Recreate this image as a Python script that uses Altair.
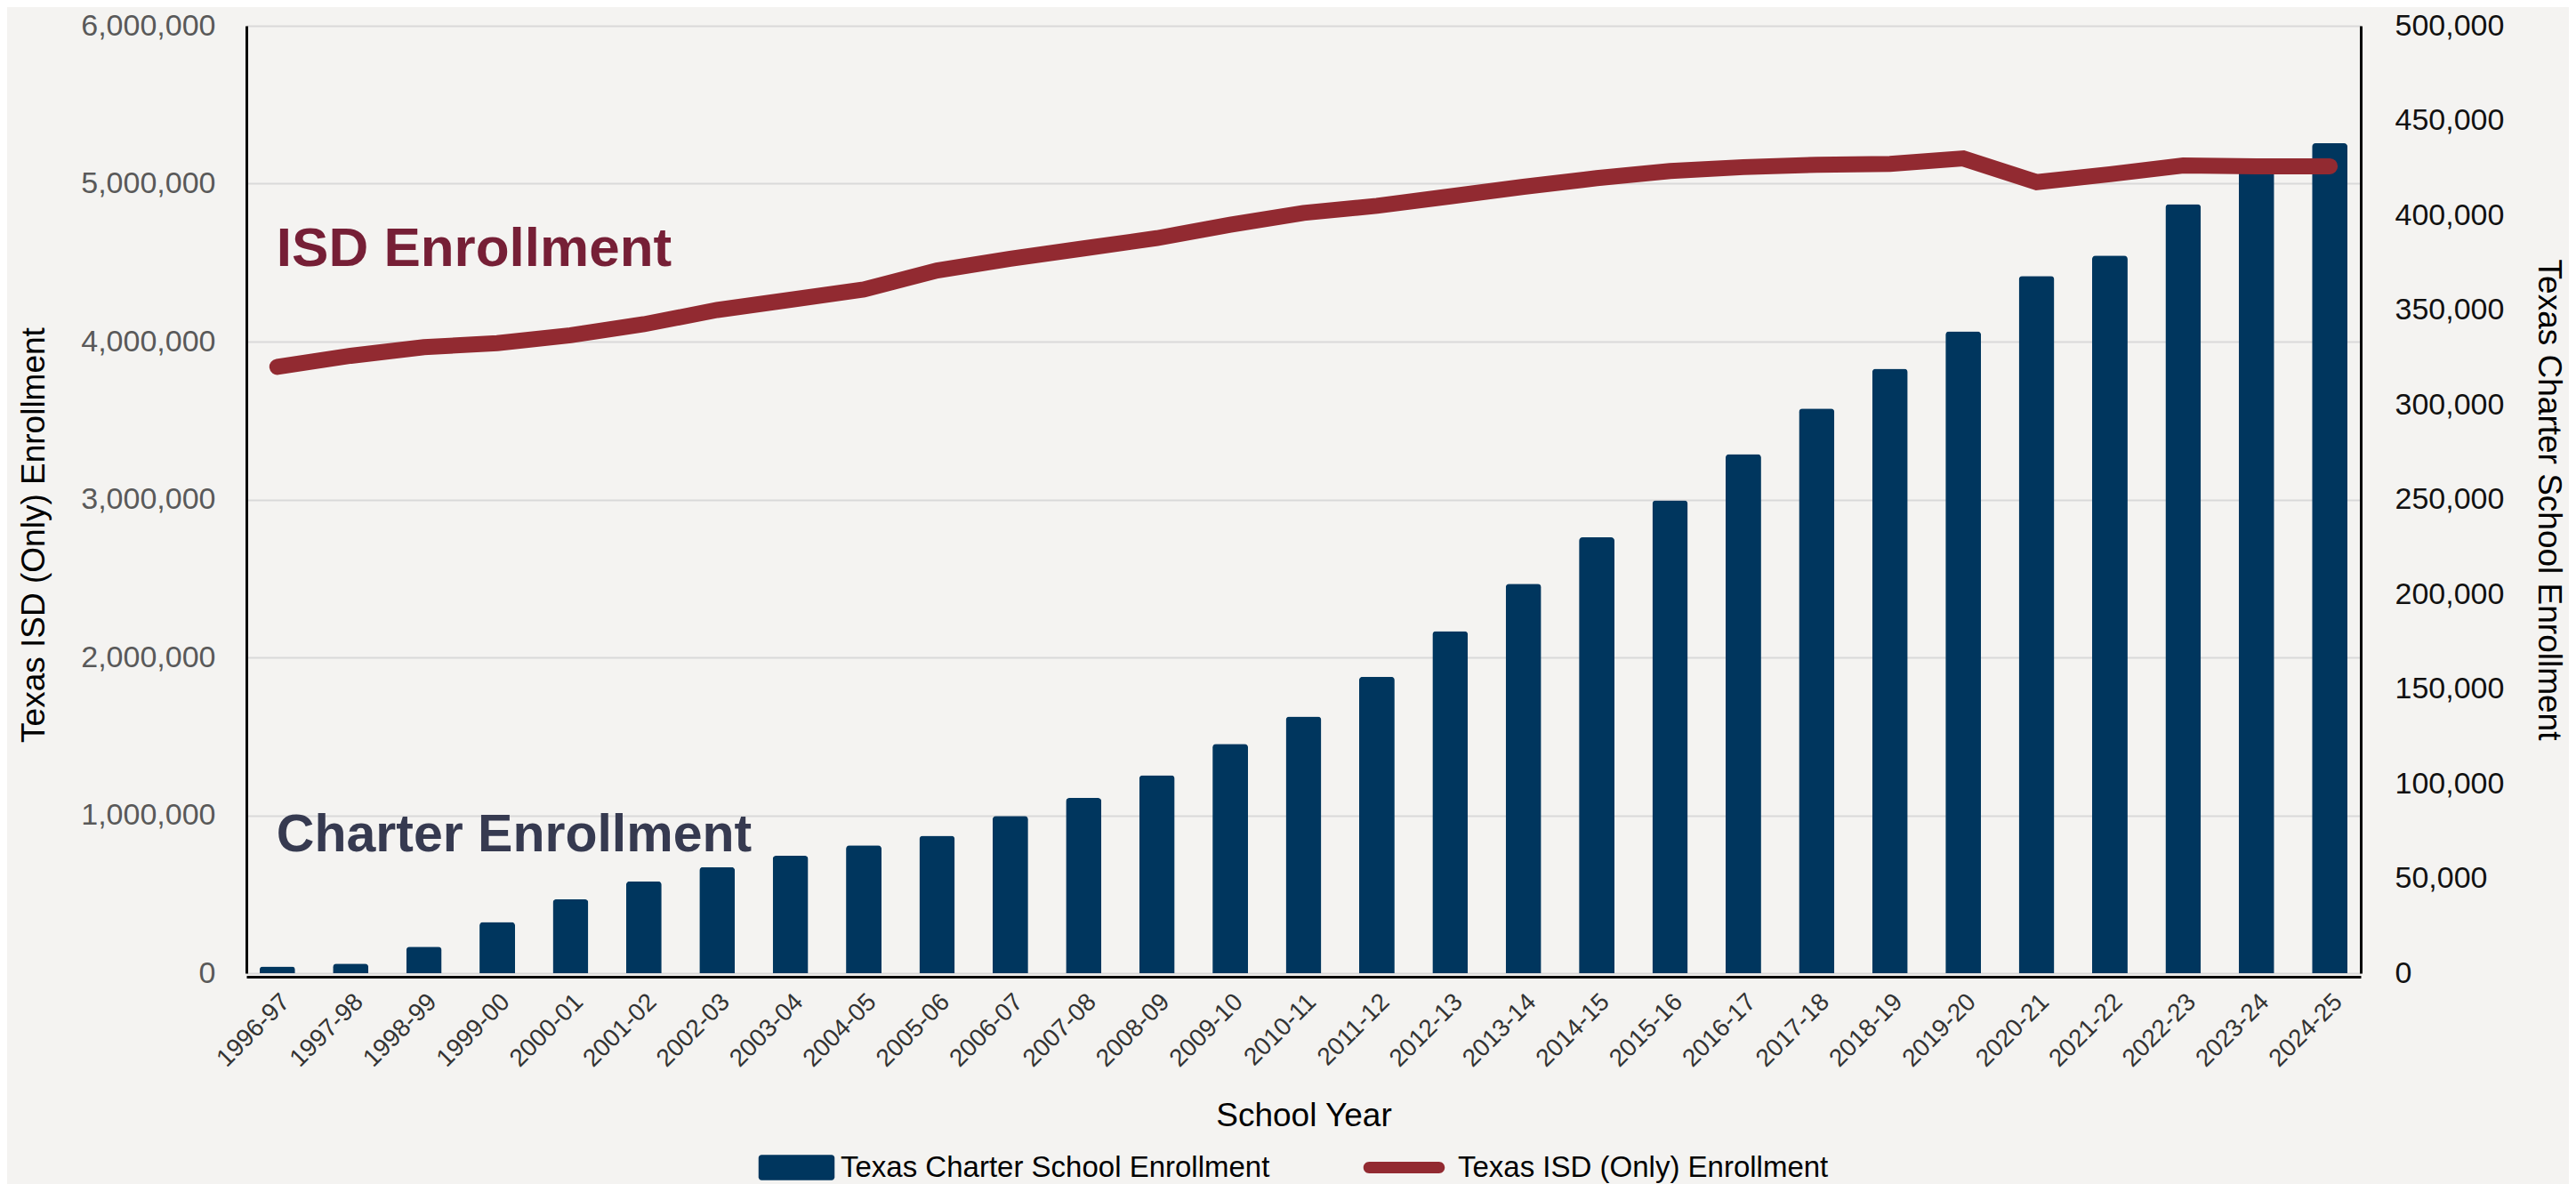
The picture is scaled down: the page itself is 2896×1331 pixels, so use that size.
import altair as alt
import pandas as pd

years = ["1996-97", "1997-98", "1998-99", "1999-00", "2000-01", "2001-02", "2002-03",
         "2003-04", "2004-05", "2005-06", "2006-07", "2007-08", "2008-09", "2009-10",
         "2010-11", "2011-12", "2012-13", "2013-14", "2014-15", "2015-16", "2016-17",
         "2017-18", "2018-19", "2019-20", "2020-21", "2021-22", "2022-23", "2023-24",
         "2024-25"]

charter = [3500, 5000, 14000, 27000, 39000, 48500, 56000, 62000, 67500, 72500,
           83000, 92500, 104500, 121000, 135500, 156500, 180500, 205500, 230000,
           249500, 274000, 298000, 319000, 338700, 368000, 378800, 405900, 426000,
           438000]

isd = [3840000, 3910000, 3965000, 3990000, 4040000, 4110000, 4200000, 4265000,
       4330000, 4450000, 4525000, 4590000, 4655000, 4740000, 4815000, 4860000,
       4920000, 4980000, 5035000, 5080000, 5105000, 5120000, 5125000, 5160000,
       5010000, 5060000, 5115000, 5110000, 5110000]

charter_name = "Texas Charter School Enrollment"
isd_name = "Texas ISD (Only) Enrollment"

ann_text = ["ISD Enrollment", "Charter Enrollment"]
ann_year = ["1996-97", "1996-97"]
ann_value = [4480000, 770000]
ann_color = ["#761f36", "#363a50"]
ann_size = [62, 59]

df = pd.DataFrame({"year": years, "charter": charter, "isd": isd})
df["cs"] = charter_name
df["is"] = isd_name
ann = pd.DataFrame({"text": ann_text, "year": ann_year, "value": ann_value,
                    "color": ann_color, "size": ann_size})

ARIAL = "Liberation Sans"
NARROW = "Liberation Sans Narrow, Liberation Sans"

xenc = alt.X(
    "year:N", sort=years, title="School Year",
    scale=alt.Scale(paddingInner=0.515, paddingOuter=0.18),
    axis=alt.Axis(labelAngle=-45, labelFont=ARIAL, labelFontSize=28,
                  labelColor="#333333", labelPadding=14, ticks=False,
                  domainColor="#000000", domainWidth=3, offset=4,
                  titleFont=NARROW, titleFontSize=37, titleFontWeight="normal",
                  titleColor="#000000", titlePadding=32, grid=False),
)

bar_path = ("M-1.38,-0.5H1.38A0.12,0.12 0 0 1 1.5,-0.38V0.38A0.12,0.12 0 0 1 1.38,0.5"
            "H-1.38A0.12,0.12 0 0 1 -1.5,0.38V-0.38A0.12,0.12 0 0 1 -1.38,-0.5Z")
line_path = ("M-1.287,-0.213H1.287A0.213,0.213 0 0 1 1.287,0.213"
             "H-1.287A0.213,0.213 0 0 1 -1.287,-0.213Z")

bars = alt.Chart(df).mark_bar(cornerRadiusTopLeft=4, cornerRadiusTopRight=4).encode(
    x=xenc,
    y=alt.Y("charter:Q", title="Texas Charter School Enrollment",
            scale=alt.Scale(domain=[0, 500000], nice=False),
            axis=alt.Axis(orient="right", values=list(range(0, 500001, 50000)),
                          format=",d", grid=False, ticks=False, tickSize=0,
                          labelPadding=38, labelFont=ARIAL, labelFontSize=34,
                          labelColor="#111111", domainColor="#000000", domainWidth=3,
                          titleFont=NARROW, titleFontSize=37, titleFontWeight="normal",
                          titleColor="#000000", titlePadding=31)),
    color=alt.Color("cs:N", scale=alt.Scale(domain=[charter_name], range=["#00365e"]),
                    legend=alt.Legend(title=None, orient="none", legendX=590, legendY=1255,
                                      symbolType=bar_path, symbolSize=3249,
                                      symbolStrokeWidth=0, labelOffset=21,
                                      labelFont=NARROW, labelFontSize=33, labelLimit=0,
                                      labelColor="#000000", padding=0)),
)

line = alt.Chart(df).mark_line(strokeWidth=18, strokeCap="round").encode(
    x=xenc,
    y=alt.Y("isd:Q", title="Texas ISD (Only) Enrollment",
            scale=alt.Scale(domain=[0, 6000000], nice=False),
            axis=alt.Axis(orient="left", values=list(range(0, 6000001, 1000000)),
                          format=",d", grid=True, gridColor="#d9d9d9", gridWidth=2,
                          ticks=False, tickSize=0, labelPadding=35, labelFont=ARIAL,
                          labelFontSize=34, labelColor="#595959",
                          domainColor="#000000", domainWidth=3,
                          titleFont=NARROW, titleFontSize=37, titleFontWeight="normal",
                          titleColor="#000000", titlePadding=33, titleY=572)),
    stroke=alt.Stroke("is:N", scale=alt.Scale(domain=[isd_name], range=["#922a31"]),
                      legend=alt.Legend(title=None, orient="none", legendX=1271, legendY=1253,
                                        symbolType=line_path, symbolSize=3721,
                                        symbolFillColor="#922a31", symbolStrokeWidth=0,
                                        labelOffset=30, labelFont=NARROW, labelFontSize=33,
                                        labelLimit=0, labelColor="#000000", padding=0)),
)

text = alt.Chart(ann).mark_text(align="left", baseline="alphabetic", fontWeight="bold",
                                font=ARIAL, dx=-1).encode(
    x=alt.X("year:N", sort=years),
    y=alt.Y("value:Q", scale=alt.Scale(domain=[0, 6000000], nice=False), axis=None),
    text="text:N",
    color=alt.Color("color:N", scale=None, legend=None),
    size=alt.Size("size:Q", scale=None, legend=None),
)

chart = alt.layer(bars, line, text).resolve_scale(
    y="independent", color="independent"
).properties(
    width=2377, height=1065,
    autosize=alt.AutoSizeParams(type="none"),
    padding={"left": 269, "top": 21, "right": 234, "bottom": 237},
    background="#f4f3f1",
).configure_view(stroke=None)

chart.save("out.html", embed_options={"renderer": "svg", "actions": False})
